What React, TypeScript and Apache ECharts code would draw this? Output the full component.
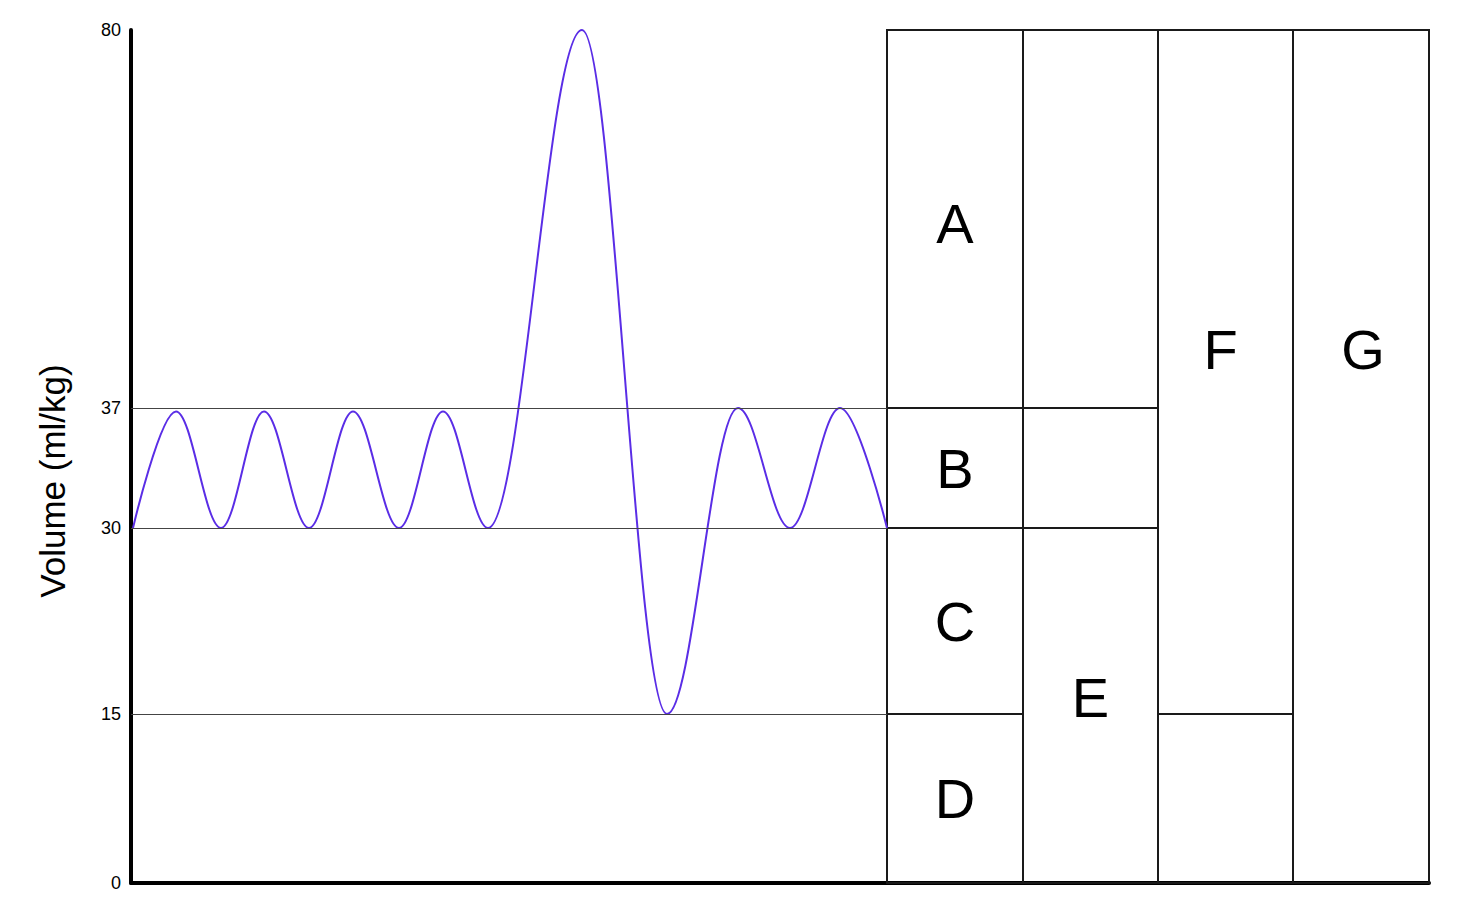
import React, { useEffect, useRef } from 'react';
import * as echarts from 'echarts';

// Spirometry trace: time (arbitrary units) and lung volume (ml/kg) at each turning point
const traceTime = [2, 45, 90, 133, 178, 222, 268, 312, 357, 451, 536, 607, 659, 709, 756];
const traceVolume = [30, 36.8, 30, 36.8, 30, 36.8, 30, 36.8, 30, 80, 15, 37, 30, 37, 30];

// Y tick labels (ml/kg) and their schematic (not-to-scale) heights on the axis
const yTicks = [0, 15, 30, 37, 80];
const yTickHeights = [0, 169, 355, 475, 853];

const xMax = 1298;

// Column boundaries on the time axis (4 columns)
const columnEdges = [756, 892, 1027, 1162, 1298];

// Volume boxes: column, lower volume, upper volume, label, volume at which the label sits
const boxColumn = [0, 0, 0, 0, 1, 1, 1, 2, 2, 3];
const boxLow = [37, 30, 15, 0, 37, 30, 0, 15, 0, 0];
const boxHigh = [80, 37, 30, 15, 80, 37, 30, 80, 15, 80];
const boxLabel = ['A', 'B', 'C', 'D', '', '', 'E', 'F', '', 'G'];
const boxLabelVolume = [58, 33.5, 22.5, 7.5, 0, 0, 16.3, 43.6, 0, 43.6];
const boxLabelShift = [0, 0, 0, 0, 0, 0, 0, -5, 0, 2];

// Reference levels drawn across the trace area
const guideLevels = [37, 30, 15];

const FONT = '"Liberation Sans", Arial, Helvetica, sans-serif';

// piecewise-linear schematic axis: volume -> axis height
function warp(v: number): number {
  for (let i = 0; i < yTicks.length - 1; i++) {
    if (v <= yTicks[i + 1]) {
      const t = (v - yTicks[i]) / (yTicks[i + 1] - yTicks[i]);
      return yTickHeights[i] + t * (yTickHeights[i + 1] - yTickHeights[i]);
    }
  }
  return yTickHeights[yTickHeights.length - 1];
}

export default function App() {
  const ref = useRef<HTMLDivElement>(null);
  useEffect(() => {
    if (!ref.current) return;
    const chart = echarts.init(ref.current, undefined, { renderer: 'svg' });
    const boxData = boxColumn.map((c, i) => [
      columnEdges[c],
      columnEdges[c + 1],
      warp(boxLow[i]),
      warp(boxHigh[i]),
      warp(boxLabelVolume[i]),
    ]);
    chart.setOption({
      animation: false,
      backgroundColor: '#fff',
      grid: { left: 131, right: 36, top: 30, bottom: 25, containLabel: false },
      xAxis: {
        type: 'value',
        min: 0,
        max: xMax,
        axisLine: { show: true, onZero: false, lineStyle: { color: '#000', width: 4 } },
        axisTick: { show: false },
        axisLabel: { show: false },
        splitLine: { show: false },
      },
      yAxis: {
        type: 'value',
        min: 0,
        max: yTickHeights[yTickHeights.length - 1],
        axisLine: { show: true, onZero: false, lineStyle: { color: '#000', width: 4 } },
        axisTick: { show: false },
        splitLine: { show: false },
        axisLabel: {
          customValues: yTickHeights,
          formatter: (v: number) => {
            let best = 0;
            for (let i = 0; i < yTickHeights.length; i++) {
              if (Math.abs(yTickHeights[i] - v) < Math.abs(yTickHeights[best] - v)) best = i;
            }
            return String(yTicks[best]);
          },
          fontSize: 18,
          color: '#000',
          fontFamily: FONT,
          margin: 10,
        },
        name: 'Volume (ml/kg)',
        nameLocation: 'middle',
        nameRotate: 90,
        nameGap: 61,
        nameTextStyle: { fontSize: 35, color: '#000', fontFamily: FONT, padding: [0, 49, 0, 0] },
      },
      series: [
        {
          type: 'custom',
          z: 1,
          clip: false,
          silent: true,
          encode: { x: [0, 1], y: [2, 3, 4] },
          data: boxData,
          renderItem: (params: any, api: any) => {
            const i = params.dataIndex;
            const x0 = api.value(0);
            const x1 = api.value(1);
            const y0 = api.value(2);
            const y1 = api.value(3);
            const ly = api.value(4);
            const tl = api.coord([x0, y1]);
            const br = api.coord([x1, y0]);
            const lp = api.coord([(x0 + x1) / 2, ly]);
            const children: any[] = [
              {
                type: 'rect',
                shape: { x: tl[0], y: tl[1], width: br[0] - tl[0], height: br[1] - tl[1] },
                style: { fill: 'none', stroke: '#1a1a1a', lineWidth: 2 },
              },
            ];
            if (boxLabel[i]) {
              children.push({
                type: 'text',
                style: {
                  text: boxLabel[i],
                  x: lp[0] + boxLabelShift[i],
                  y: lp[1],
                  fill: '#000',
                  font: `56px ${FONT}`,
                  textAlign: 'center',
                  textVerticalAlign: 'middle',
                  align: 'center',
                  verticalAlign: 'middle',
                },
              });
            }
            return { type: 'group', children };
          },
          markLine: {
            silent: true,
            symbol: 'none',
            label: { show: false },
            lineStyle: { color: '#444', width: 1.2, type: 'solid' },
            data: guideLevels.map((v) => [
              { coord: [0, warp(v)] },
              { coord: [columnEdges[0], warp(v)] },
            ]),
          },
        },
        {
          type: 'line',
          z: 3,
          silent: true,
          showSymbol: false,
          symbol: 'none',
          smooth: 0.36,
          smoothMonotone: 'x',
          lineStyle: { color: '#5a2de6', width: 2 },
          data: traceTime.map((t, i) => [t, warp(traceVolume[i])]),
        },
      ],
    });
    return () => chart.dispose();
  }, []);
  return (
    <div
      ref={ref}
      style={{ position: 'absolute', left: 0, top: 0, width: 1465, height: 908 }}
    />
  );
}
